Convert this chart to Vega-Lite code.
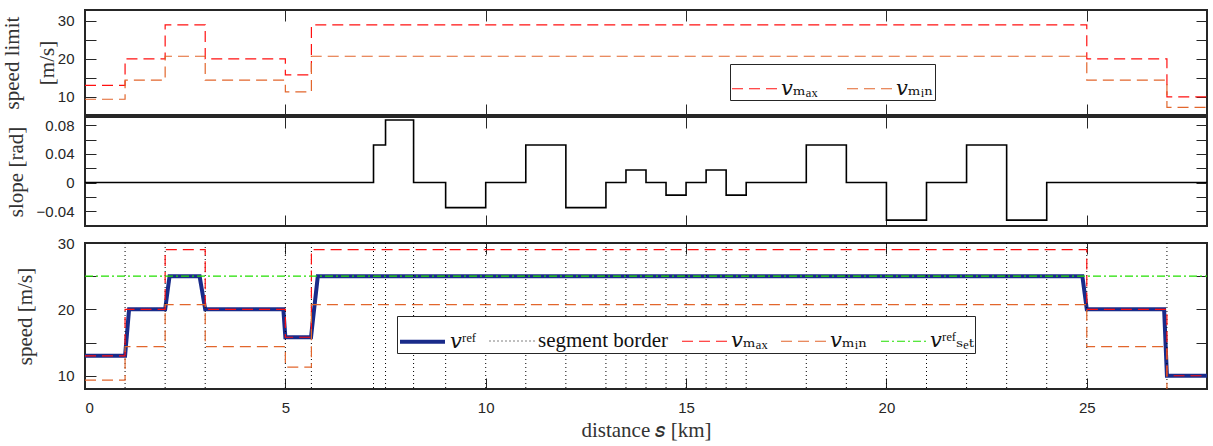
{
  "$schema": "https://vega.github.io/schema/vega-lite/v6.json",
  "padding": {"left": 0, "top": 8, "right": 2, "bottom": 0},
  "background": "white",
  "config": {
    "view": {"stroke": "#262626", "strokeWidth": 2},
    "axis": {
      "domain": false, "grid": false,
      "tickColor": "#262626", "tickSize": -11, "tickWidth": 1,
      "labelFont": "Liberation Sans", "labelFontSize": 15, "labelColor": "#262626", "labelPadding": 22,
      "titleFont": "Liberation Serif", "titleFontSize": 21, "titleFontWeight": "normal", "titleColor": "#333333"
    },
    "legend": {
      "orient": "none", "direction": "horizontal", "title": null,
      "symbolType": "stroke", "symbolSize": 2025, "symbolStrokeWidth": 1.2,
      "labelFont": "Liberation Serif, DejaVu Serif", "labelFontSize": 21, "labelColor": "#111111", "labelLimit": 400,
      "strokeColor": "#262626", "fillColor": "white", "padding": 1, "columnPadding": 10, "labelOffset": 3
    }
  },
  "datasets": {
    "limits": [
      {"s": 0, "v": 13, "series": "vmax"}, {"s": 1, "v": 20, "series": "vmax"}, {"s": 2, "v": 29, "series": "vmax"},
      {"s": 3, "v": 20, "series": "vmax"}, {"s": 5, "v": 15.8, "series": "vmax"}, {"s": 5.65, "v": 29, "series": "vmax"},
      {"s": 25, "v": 20, "series": "vmax"}, {"s": 27, "v": 10, "series": "vmax"}, {"s": 28, "v": 10, "series": "vmax"},
      {"s": 0, "v": 9.35, "series": "vmin"}, {"s": 1, "v": 14.4, "series": "vmin"}, {"s": 2, "v": 20.7, "series": "vmin"},
      {"s": 3, "v": 14.4, "series": "vmin"}, {"s": 5, "v": 11.3, "series": "vmin"}, {"s": 5.65, "v": 20.7, "series": "vmin"},
      {"s": 25, "v": 14.4, "series": "vmin"}, {"s": 27, "v": 7.2, "series": "vmin"}, {"s": 28, "v": 7.2, "series": "vmin"}
    ],
    "slope": [
      {"s": 0, "slope": 0}, {"s": 7.2, "slope": 0.0524}, {"s": 7.5, "slope": 0.0873}, {"s": 8.2, "slope": 0},
      {"s": 9, "slope": -0.0349}, {"s": 10, "slope": 0}, {"s": 11, "slope": 0.0524}, {"s": 12, "slope": -0.0349},
      {"s": 13, "slope": 0}, {"s": 13.5, "slope": 0.0175}, {"s": 14, "slope": 0}, {"s": 14.5, "slope": -0.0175},
      {"s": 15, "slope": 0}, {"s": 15.5, "slope": 0.0175}, {"s": 16, "slope": -0.0175}, {"s": 16.5, "slope": 0},
      {"s": 18, "slope": 0.0524}, {"s": 19, "slope": 0}, {"s": 20, "slope": -0.0524}, {"s": 21, "slope": 0},
      {"s": 22, "slope": 0.0524}, {"s": 23, "slope": -0.0524}, {"s": 24, "slope": 0}, {"s": 28, "slope": 0}
    ],
    "vref": [
      {"s": 0, "v": 13, "series": "vref"}, {"s": 1, "v": 13, "series": "vref"}, {"s": 1.1, "v": 20, "series": "vref"},
      {"s": 2.0, "v": 20, "series": "vref"}, {"s": 2.11, "v": 25, "series": "vref"}, {"s": 2.86, "v": 25, "series": "vref"},
      {"s": 3.0, "v": 20, "series": "vref"}, {"s": 4.95, "v": 20, "series": "vref"}, {"s": 5.0, "v": 15.8, "series": "vref"},
      {"s": 5.64, "v": 15.8, "series": "vref"}, {"s": 5.81, "v": 25, "series": "vref"}, {"s": 24.89, "v": 25, "series": "vref"},
      {"s": 25.0, "v": 20, "series": "vref"}, {"s": 26.93, "v": 20, "series": "vref"}, {"s": 27.0, "v": 10, "series": "vref"},
      {"s": 28, "v": 10, "series": "vref"}
    ],
    "vset": [
      {"s": 0, "v": 25, "series": "vset"}, {"s": 28, "v": 25, "series": "vset"}
    ],
    "borders": [
      {"s": 1, "series": "seg"}, {"s": 2, "series": "seg"}, {"s": 3, "series": "seg"}, {"s": 5, "series": "seg"},
      {"s": 5.65, "series": "seg"}, {"s": 7.2, "series": "seg"}, {"s": 7.5, "series": "seg"}, {"s": 8.2, "series": "seg"},
      {"s": 9, "series": "seg"}, {"s": 10, "series": "seg"}, {"s": 11, "series": "seg"}, {"s": 12, "series": "seg"},
      {"s": 13, "series": "seg"}, {"s": 13.5, "series": "seg"}, {"s": 14, "series": "seg"}, {"s": 14.5, "series": "seg"},
      {"s": 15, "series": "seg"}, {"s": 15.5, "series": "seg"}, {"s": 16, "series": "seg"}, {"s": 16.5, "series": "seg"},
      {"s": 18, "series": "seg"}, {"s": 19, "series": "seg"}, {"s": 20, "series": "seg"}, {"s": 21, "series": "seg"},
      {"s": 22, "series": "seg"}, {"s": 23, "series": "seg"}, {"s": 24, "series": "seg"}, {"s": 25, "series": "seg"},
      {"s": 27, "series": "seg"}
    ]
  },
  "spacing": 7,
  "resolve": {"scale": {"color": "independent", "strokeDash": "independent", "strokeWidth": "independent"}, "legend": {"color": "independent", "strokeDash": "independent", "strokeWidth": "independent"}},
  "vconcat": [
    {
      "spacing": -8,
      "vconcat": [
        {
          "width": 1122, "height": 105,
          "data": {"name": "limits"},
          "resolve": {"axis": {"x": "independent", "y": "independent"}},
          "layer": [
            {
              "mark": {"type": "line", "interpolate": "step-after", "strokeWidth": 1.2, "clip": true},
              "encoding": {
                "x": {"field": "s", "type": "quantitative", "scale": {"domain": [0, 28], "nice": false},
                      "axis": {"orient": "bottom", "values": [0, 5, 10, 15, 20, 25], "labels": false, "title": null}},
                "y": {"field": "v", "type": "quantitative", "scale": {"domain": [5.2, 32.9], "nice": false, "zero": false},
                      "axis": {"orient": "left", "values": [10, 15, 20, 25, 30], "labelExpr": "datum.value % 10 == 0 ? datum.label : ''",
                               "title": ["speed limit", "[m/s]"], "titleLineHeight": 35, "titlePadding": 0,
                               "encode": {"title": {"update": {"lineHeight": {"value": 35}}}}}},
                "color": {"field": "series", "type": "nominal",
                          "scale": {"domain": ["vmax", "vmin"], "range": ["#ff1010", "#e2662c"]},
                          "legend": {"legendX": 645, "legendY": 54, "columnPadding": 26,
                                     "labelExpr": "datum.label == 'vmax' ? '𝑣ₘₐₓ' : '𝑣ₘᵢₙ'"}},
                "strokeDash": {"field": "series", "type": "nominal",
                               "scale": {"domain": ["vmax", "vmin"], "range": [[11, 6], [11, 6]]},
                               "legend": {"legendX": 645, "legendY": 54, "columnPadding": 26,
                                          "labelExpr": "datum.label == 'vmax' ? '𝑣ₘₐₓ' : '𝑣ₘᵢₙ'"}}
              }
            },
            {
              "mark": {"type": "line", "strokeOpacity": 0},
              "encoding": {
                "x": {"field": "s", "type": "quantitative", "axis": {"orient": "top", "values": [0, 5, 10, 15, 20, 25], "labels": false, "title": null}},
                "y": {"field": "v", "type": "quantitative", "axis": {"orient": "right", "values": [10, 15, 20, 25, 30], "labels": false, "title": null}}
              }
            }
          ]
        },
        {
          "width": 1122, "height": 109,
          "data": {"name": "slope"},
          "resolve": {"axis": {"x": "independent", "y": "independent"}},
          "layer": [
            {
              "mark": {"type": "line", "interpolate": "step-after", "color": "black", "strokeWidth": 1.6},
              "encoding": {
                "x": {"field": "s", "type": "quantitative", "scale": {"domain": [0, 28], "nice": false},
                      "axis": {"orient": "bottom", "values": [0, 5, 10, 15, 20, 25], "labels": false, "title": null}},
                "y": {"field": "slope", "type": "quantitative", "scale": {"domain": [-0.0606, 0.0915], "nice": false, "zero": false},
                      "axis": {"orient": "left", "values": [-0.04, -0.02, 0, 0.02, 0.04, 0.06, 0.08],
                               "labelExpr": "datum.value == 0 ? '0' : (datum.value == -0.04 || datum.value == 0.04 || datum.value == 0.08 ? format(datum.value, '.2f') : '')",
                               "title": "slope [rad]", "titlePadding": 10}}
              }
            },
            {
              "mark": {"type": "line", "strokeOpacity": 0},
              "encoding": {
                "x": {"field": "s", "type": "quantitative", "axis": {"orient": "top", "values": [0, 5, 10, 15, 20, 25], "labels": false, "title": null}},
                "y": {"field": "slope", "type": "quantitative", "axis": {"orient": "right", "values": [-0.04, -0.02, 0, 0.02, 0.04, 0.06, 0.08], "labels": false, "title": null}}
              }
            }
          ]
        }
      ]
    },
    {
      "width": 1122, "height": 146,
      "resolve": {"axis": {"x": "independent", "y": "independent"}},
      "encoding": {
        "color": {"field": "series", "type": "nominal",
                  "scale": {"domain": ["vref", "seg", "vmax", "vmin", "vset"], "range": ["#1a2b8a", "#000000", "#ff1010", "#e2662c", "#22e000"]},
                  "legend": {"legendX": 312, "legendY": 73,
                             "labelExpr": "datum.label == 'vref' ? '𝑣ʳᵉᶠ' : datum.label == 'seg' ? 'segment border' : datum.label == 'vmax' ? '𝑣ₘₐₓ' : datum.label == 'vmin' ? '𝑣ₘᵢₙ' : '𝑣ʳᵉᶠₛₑₜ'",
                             "encode": {"symbols": {"update": {"strokeWidth": {"signal": "datum.value == 'vref' ? 4 : 1.2"}}}}}},
        "strokeDash": {"field": "series", "type": "nominal",
                       "scale": {"domain": ["vref", "seg", "vmax", "vmin", "vset"], "range": [[1, 0], [1, 3], [11, 6], [11, 6], [8, 3, 2, 3]]},
                       "legend": {"legendX": 312, "legendY": 73,
                                  "labelExpr": "datum.label == 'vref' ? '𝑣ʳᵉᶠ' : datum.label == 'seg' ? 'segment border' : datum.label == 'vmax' ? '𝑣ₘₐₓ' : datum.label == 'vmin' ? '𝑣ₘᵢₙ' : '𝑣ʳᵉᶠₛₑₜ'",
                                  "encode": {"symbols": {"update": {"strokeWidth": {"signal": "datum.value == 'vref' ? 4 : 1.2"}}}}}},
        "strokeWidth": {"field": "series", "type": "nominal",
                        "scale": {"type": "ordinal", "domain": ["vref", "seg", "vmax", "vmin", "vset"], "range": [4, 1, 1.2, 1.2, 1.2]},
                        "legend": null}
      },
      "layer": [
        {
          "data": {"name": "vref"},
          "mark": {"type": "line", "clip": true},
          "encoding": {
            "x": {"field": "s", "type": "quantitative", "scale": {"domain": [0, 28], "nice": false},
                  "axis": {"orient": "bottom", "values": [0, 5, 10, 15, 20, 25], "title": "distance 𝑠 [km]", "titlePadding": 4}},
            "y": {"field": "v", "type": "quantitative", "scale": {"domain": [8, 30], "nice": false, "zero": false},
                  "axis": {"orient": "left", "values": [10, 15, 20, 25, 30], "labelExpr": "datum.value % 10 == 0 ? datum.label : ''",
                           "title": "speed [m/s]", "titlePadding": 22}}
          }
        },
        {
          "data": {"name": "borders"},
          "mark": {"type": "rule"},
          "encoding": {"x": {"field": "s", "type": "quantitative", "axis": null}}
        },
        {
          "data": {"name": "limits"},
          "mark": {"type": "line", "interpolate": "step-after", "clip": true},
          "encoding": {"x": {"field": "s", "type": "quantitative", "axis": null}, "y": {"field": "v", "type": "quantitative", "axis": null}}
        },
        {
          "data": {"name": "vset"},
          "mark": {"type": "line", "clip": true},
          "encoding": {"x": {"field": "s", "type": "quantitative", "axis": null}, "y": {"field": "v", "type": "quantitative", "axis": null}}
        },
        {
          "data": {"name": "vset"},
          "mark": {"type": "line", "strokeOpacity": 0},
          "encoding": {
            "x": {"field": "s", "type": "quantitative", "axis": {"orient": "top", "values": [0, 5, 10, 15, 20, 25], "labels": false, "title": null}},
            "y": {"field": "v", "type": "quantitative", "axis": {"orient": "right", "values": [10, 15, 20, 25, 30], "labels": false, "title": null}},
            "color": {"value": "black"}, "strokeDash": {"value": [1, 0]}, "strokeWidth": {"value": 1}
          }
        }
      ]
    }
  ]
}
